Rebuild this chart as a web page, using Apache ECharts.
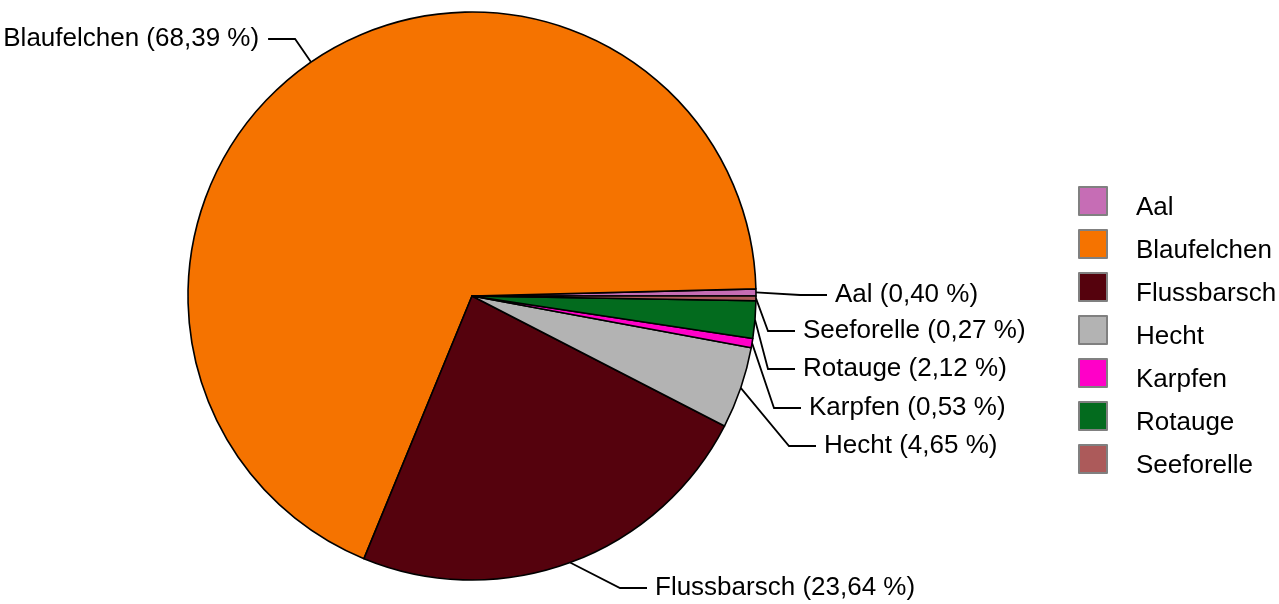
<!DOCTYPE html>
<html>
<head>
<meta charset="utf-8">
<script src="https://cdn.jsdelivr.net/npm/echarts@6/dist/echarts.min.js"></script>
<style>
  html, body { margin: 0; padding: 0; background: #fff; }
  #chart { width: 1279px; height: 604px; }
</style>
</head>
<body>
<div id="chart"></div>
<script>
// Fischarten und Anteile (%)
const species = ['Aal', 'Blaufelchen', 'Flussbarsch', 'Hecht', 'Karpfen', 'Rotauge', 'Seeforelle']
const shares = [0.40, 68.39, 23.64, 4.65, 0.53, 2.12, 0.27]
const colors = ['#C66DB5', '#F57300', '#55020D', '#B3B3B3', '#FF00C8', '#036B1E', '#AC5A5A']

// Beschriftungspositionen (Textanfang links, Mitte vertikal)
const labelPos = {
  0: [835, 295],
  2: [655, 588],
  3: [824, 446],
  4: [809, 408],
  5: [803, 369],
  6: [803, 331]
}
const lineGap = 8
const lineTail = 27

const chart = echarts.init(document.getElementById('chart'))

const fmt = v => v.toFixed(2).replace('.', ',')

chart.setOption({
  animation: false,
  textStyle: { fontFamily: 'Liberation Sans, Arial, sans-serif' },
  legend: {
    orient: 'vertical',
    left: 1073,
    top: 181,
    icon: 'rect',
    itemWidth: 28,
    itemHeight: 28,
    itemGap: 8,
    itemStyle: { borderColor: '#808080', borderWidth: 2 },
    formatter: name => '{a|' + name + '}',
    textStyle: {
      color: '#000',
      padding: [0, 0, 0, 24],
      rich: { a: { fontSize: 26, color: '#000', padding: [14, 0, 0, 0] } }
    },
    data: species
  },
  series: [
    {
      type: 'pie',
      center: [472, 296],
      radius: 284,
      startAngle: 0,
      clockwise: false,
      avoidLabelOverlap: false,
      itemStyle: { borderColor: '#000', borderWidth: 1.6 },
      label: {
        show: true,
        position: 'outside',
        fontSize: 26,
        color: '#000',
        overflow: 'none',
        distanceToLabelLine: 9,
        formatter: p => p.name + ' (' + fmt(p.value) + ' %)'
      },
      labelLine: {
        show: true,
        length: 28,
        length2: 27,
        lineStyle: { color: '#000', width: 1.8 }
      },
      labelLayout: params => {
        const pos = labelPos[params.dataIndex]
        if (!pos) return {}
        const anchor = params.labelLinePoints[0]
        const end = [pos[0] - lineGap, pos[1]]
        return {
          x: pos[0],
          y: pos[1],
          align: 'left',
          verticalAlign: 'middle',
          labelLinePoints: [anchor, [end[0] - lineTail, end[1]], end]
        }
      },
      data: species.map((name, i) => ({
        name,
        value: shares[i],
        itemStyle: { color: colors[i] }
      }))
    }
  ]
})
</script>
</body>
</html>
